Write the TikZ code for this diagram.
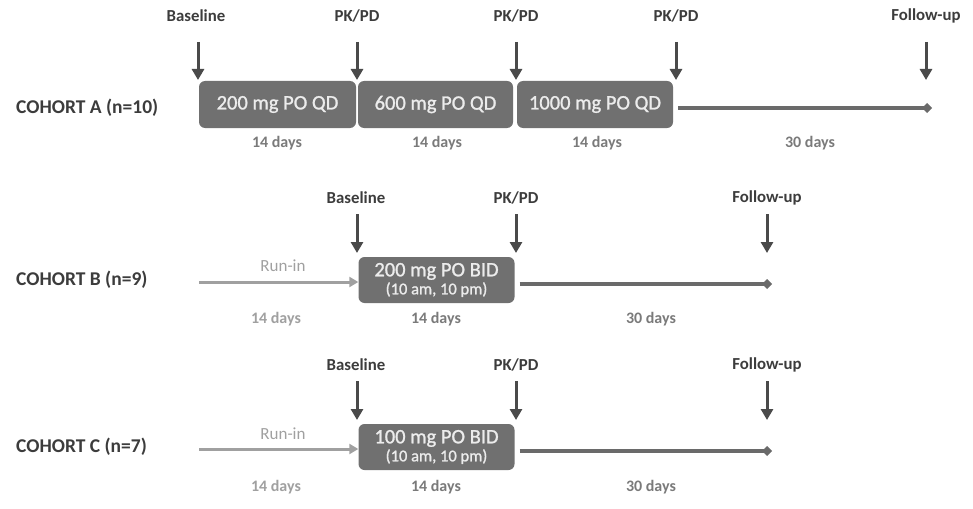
\documentclass[tikz,border=0pt]{standalone}
\usepackage{fontspec}
\setmainfont{Carlito}
\newfontfamily\boxfont[FakeBold=1.2]{Carlito}
\usetikzlibrary{arrows.meta}
\definecolor{boxgray}{HTML}{707070}
\definecolor{boxtext}{HTML}{ECECEC}
\definecolor{dark}{HTML}{3C3C3C}
\definecolor{arrowgray}{HTML}{4A4A4A}
\definecolor{linegray}{HTML}{6A6A6A}
\definecolor{daygray}{HTML}{7A7A7A}
\definecolor{runin}{HTML}{A0A0A0}
\newcommand{\smalltxt}{\fontsize{16.5}{18}\selectfont}
\tikzset{
  cohort/.style={anchor=west, text=dark, font=\bfseries\fontsize{19.5}{22}\selectfont, inner sep=0pt},
  dosebox/.style={fill=boxgray, rounded corners=6pt, text=boxtext, minimum width=156pt, minimum height=47pt, inner sep=0pt, align=center, font=\boxfont\fontsize{20.5}{22}\selectfont},
  event/.style={text=dark, font=\bfseries\fontsize{16.8}{18}\selectfont, inner sep=0pt},
  days/.style={text=daygray, font=\bfseries\fontsize{16}{18}\selectfont, inner sep=0pt},
  rundays/.style={days, text=runin},
  runlabel/.style={text=runin, font=\fontsize{17}{19}\selectfont, inner sep=0pt},
  eventarrow/.style={draw=arrowgray, line width=3pt, -{Triangle[width=12pt,length=11pt]}},
  timeline/.style={draw=linegray, line width=3.5pt, -{Kite[width=10pt,length=10pt,inset=5pt]}},
  runarrow/.style={draw=runin, line width=3pt, -{Triangle[width=10pt,length=9pt]}}
}
\begin{document}
\begin{tikzpicture}[x=1pt,y=-1pt]
\useasboundingbox (0,0) rectangle (973,508);

% ---------- Cohort A ----------
\node[cohort] (la) at (16,108) {COHORT A (n=10)};
\node[dosebox, minimum width=157pt] (a1) at (277.5,104.5) {200 mg PO QD};
\node[dosebox, minimum width=155pt] (a2) at (435.5,104.5) {600 mg PO QD};
\node[dosebox, minimum width=156pt] (a3) at (595,104.5) {1000 mg PO QD};

\node[event] (ea1) at (196,16) {Baseline};
\node[event] (ea2) at (357,16) {PK/PD};
\node[event] (ea3) at (516,16) {PK/PD};
\node[event] (ea4) at (676,16) {PK/PD};
\node[event] (ea5) at (926,16) {Follow-up};

\coordinate (ta1) at (198,80);
\coordinate (ta2) at (357,80);
\coordinate (ta3) at (516,80);
\coordinate (ta4) at (676,80);
\coordinate (ta5) at (926,80);
\coordinate (sa1) at (198,42);
\coordinate (sa2) at (357,42);
\coordinate (sa3) at (516,42);
\coordinate (sa4) at (676,42);
\coordinate (sa5) at (926,42);
\foreach \i in {1,...,5} {\draw[eventarrow] (sa\i) -- (ta\i);}

\coordinate (enda) at (932,108);
\draw[timeline] (a3.east |- enda) ++(5pt,0) coordinate (sta) -- (enda);

\node[days] (da1) at (277,143) {14 days};
\node[days] (da2) at (437,143) {14 days};
\node[days] (da3) at (597,143) {14 days};
\node[days] (da4) at (810,143) {30 days};

% ---------- Cohort B ----------
\node[cohort] (lb) at (16,280) {COHORT B (n=9)};
\node[dosebox, minimum height=46pt] (b1) at (436.5,280) {200 mg PO BID\\[-4pt]{\smalltxt (10 am, 10 pm)}};

\node[event] (eb1) at (356,198) {Baseline};
\node[event] (eb2) at (516,198) {PK/PD};
\node[event] (eb3) at (767,198) {Follow-up};
\coordinate (sb1) at (357,214);
\coordinate (sb2) at (516,214);
\coordinate (sb3) at (767,214);
\coordinate (tb1) at (357,253);
\coordinate (tb2) at (516,253);
\coordinate (tb3) at (767,253);
\foreach \i in {1,2,3} {\draw[eventarrow] (sb\i) -- (tb\i);}

\coordinate (rb) at (199,282);
\draw[runarrow] (rb) -- (b1.west |- rb);
\node[runlabel] (rlb) at (283,266) {Run-in};
\coordinate (endb) at (772,284);
\draw[timeline] (b1.east |- endb) ++(5pt,0) -- (endb);

\node[rundays] (db0) at (276,319) {14 days};
\node[days] (db1) at (436,319) {14 days};
\node[days] (db2) at (651,319) {30 days};

% ---------- Cohort C ----------
\node[cohort] (lc) at (16,447) {COHORT C (n=7)};
\node[dosebox, minimum height=46pt] (c1) at (436.5,447) {100 mg PO BID\\[-4pt]{\smalltxt (10 am, 10 pm)}};

\node[event] (ec1) at (356,365) {Baseline};
\node[event] (ec2) at (516,365) {PK/PD};
\node[event] (ec3) at (767,365) {Follow-up};
\coordinate (sc1) at (357,381);
\coordinate (sc2) at (516,381);
\coordinate (sc3) at (767,381);
\coordinate (tc1) at (357,420);
\coordinate (tc2) at (516,420);
\coordinate (tc3) at (767,420);
\foreach \i in {1,2,3} {\draw[eventarrow] (sc\i) -- (tc\i);}

\coordinate (rc) at (199,449);
\draw[runarrow] (rc) -- (c1.west |- rc);
\node[runlabel] (rlc) at (283,434) {Run-in};
\coordinate (endc) at (772,451);
\draw[timeline] (c1.east |- endc) ++(5pt,0) -- (endc);

\node[rundays] (dc0) at (276,487) {14 days};
\node[days] (dc1) at (436,487) {14 days};
\node[days] (dc2) at (651,487) {30 days};
\end{tikzpicture}
\end{document}
